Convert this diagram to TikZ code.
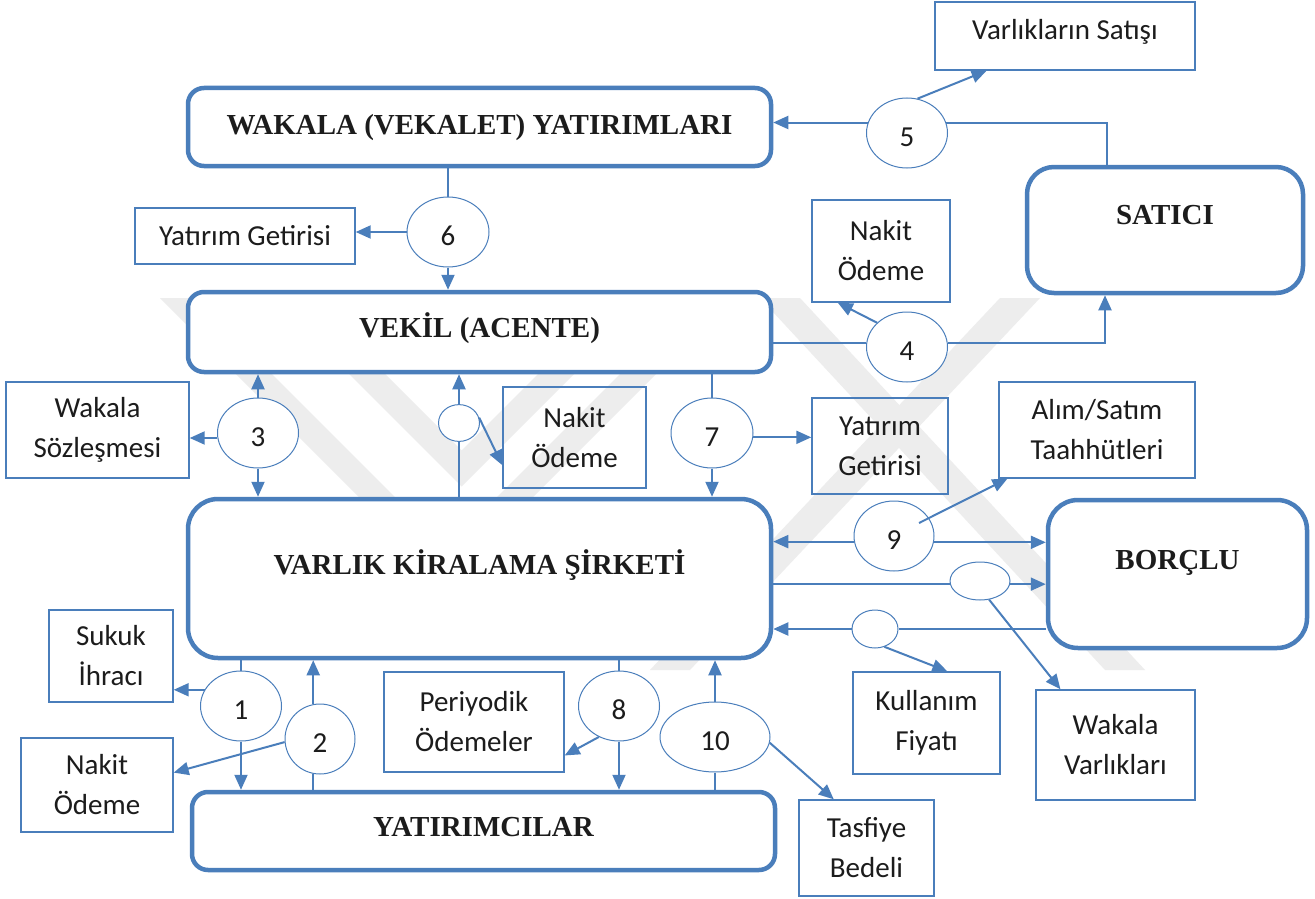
\documentclass[tikz,border=0pt]{standalone}
\usepackage{fontspec}
\setmainfont{Liberation Serif}
\newfontfamily\labfont{Carlito}
\usetikzlibrary{shapes.geometric,arrows.meta,calc}
\definecolor{bl}{RGB}{74,126,187}
\definecolor{wm}{RGB}{237,237,237}
\definecolor{tx}{RGB}{28,28,28}
\begin{document}
\begin{tikzpicture}[x=1pt,y=-1pt,
  big/.style={draw=bl, line width=4.5pt, fill=white, rounded corners=#1, inner sep=0pt,
    text=tx, font=\fontsize{29}{34}\selectfont\bfseries, text height=20pt},
  thin/.style={draw=bl, line width=1.4pt, inner sep=0pt, align=center, text=tx,
    font=\labfont\fontsize{29}{40}\selectfont},
  ell/.style={ellipse, draw=bl, line width=1pt, fill=white, inner sep=0pt, text=tx,
    font=\labfont\fontsize{29}{34}\selectfont, text height=26pt, text depth=0pt},
  ln/.style={draw=bl, line width=2pt},
  arr/.style={draw=bl, line width=2pt, -{Triangle[length=15pt,width=13pt]}}]
\fill[white] (0,0) rectangle (1315,899);
\useasboundingbox (0,0) rectangle (1315,899);
% watermark
\begin{scope}
\clip (0,297) rectangle (1315,670);
\fill[wm] (160,298) -- (196,298) -- (446,548) -- (696,298) -- (732,298) -- (446,584) -- cycle;
\fill[wm] (273,298) -- (309,298) -- (461.5,450.5) -- (614,298) -- (650,298) -- (461.5,486.5) -- cycle;
\fill[wm] (760,298) -- (800,298) -- (1145,670) -- (1105,670) -- cycle;
\fill[wm] (1000,298) -- (1040,298) -- (690,670) -- (650,670) -- cycle;
\end{scope}
% main boxes
\node[big=16pt, minimum width=583pt, minimum height=78pt, text depth=4.8pt] (wak) at (479.5,127) {WAKALA (VEKALET) YATIRIMLARI};
\node[big=16pt, minimum width=583pt, minimum height=80pt, text depth=8.8pt] (vek) at (479.5,332) {VEKİL (ACENTE)};
\node[big=30pt, minimum width=583pt, minimum height=159pt, text depth=27.8pt] (var) at (479.5,578.5) {VARLIK KİRALAMA ŞİRKETİ};
\node[big=16pt, minimum width=583pt, minimum height=78pt, text depth=8.8pt] (yat) at (483.5,831) {YATIRIMCILAR};
\node[big=27pt, minimum width=276pt, minimum height=126pt, text depth=30.8pt] (sat) at (1165,230) {SATICI};
\node[big=30pt, minimum width=259pt, minimum height=148pt, text depth=28.8pt] (bor) at (1177.5,574) {BORÇLU};
% label boxes
\node[thin, minimum width=260pt, minimum height=68pt, text height=20pt, text depth=13pt] (vs) at (1065,36) {Varlıkların Satışı};
\node[thin, minimum width=220pt, minimum height=56pt] (yg1) at (245,236) {Yatırım Getirisi};
\node[thin, minimum width=138pt, minimum height=102pt] (no1) at (881,251) {Nakit\\Ödeme};
\node[thin, minimum width=183pt, minimum height=96pt] (ws) at (97.5,430) {Wakala\\Sözleşmesi};
\node[thin, minimum width=143pt, minimum height=101pt] (no2) at (574.5,437.5) {Nakit\\Ödeme};
\node[thin, minimum width=136pt, minimum height=96pt] (yg2) at (880,446) {Yatırım\\Getirisi};
\node[thin, minimum width=196pt, minimum height=96pt] (as) at (1097,430) {Alım/Satım\\Taahhütleri};
\node[thin, minimum width=124pt, minimum height=92pt] (si) at (111,656) {Sukuk\\İhracı};
\node[thin, minimum width=152pt, minimum height=94pt] (no3) at (97,785) {Nakit\\Ödeme};
\node[thin, minimum width=180pt, minimum height=100pt] (po) at (474,722) {Periyodik\\Ödemeler};
\node[thin, minimum width=147pt, minimum height=102pt] (kf) at (926.5,723) {Kullanım\\Fiyatı};
\node[thin, minimum width=159pt, minimum height=110pt] (wv) at (1115.5,745) {Wakala\\Varlıkları};
\node[thin, minimum width=135pt, minimum height=96pt] (tb) at (866.5,848) {Tasfiye\\Bedeli};
% ellipses
\node[ell, minimum width=81pt, minimum height=70pt] (c5) at (907,133) {5};
\node[ell, minimum width=82pt, minimum height=70pt] (c6) at (448,232) {6};
\node[ell, minimum width=81pt, minimum height=70pt] (c4) at (907,347) {4};
\node[ell, minimum width=81pt, minimum height=70pt] (c3) at (258,433) {3};
\node[ell, minimum width=41pt, minimum height=30pt] (e1) at (459,423) {};
\node[ell, minimum width=82pt, minimum height=70pt] (c7) at (712,433) {7};
\node[ell, minimum width=80pt, minimum height=70pt] (c9) at (894,536) {9};
\node[ell, minimum width=60pt, minimum height=38pt] (e2) at (980,581) {};
\node[ell, minimum width=46pt, minimum height=38pt] (e3) at (875,629) {};
\node[ell, minimum width=81pt, minimum height=70pt] (c1) at (241,706) {1};
\node[ell, minimum width=70pt, minimum height=70pt] (c2) at (320,739) {2};
\node[ell, minimum width=81pt, minimum height=70pt] (c8) at (619,706) {8};
\node[ell, minimum width=110pt, minimum height=70pt] (c10) at (715,737) {10};
% connectors: 6
\draw[ln] (c6.north |- wak.south) -- (c6.north);
\draw[arr] (c6.south) -- (c6.south |- vek.north);
\draw[arr] (c6.west) -- (c6.west -| yg1.east);
% 5
\draw[ln] ([xshift=-58pt]sat.north) |- (c5.14.5);
\draw[arr] (c5.165.5) -- (c5.165.5 -| wak.east);
\draw[arr] (c5.73) -- ($(vs.south west)!0.2!(vs.south east)$);
% 4
\draw[ln] (c4.174.3 -| vek.east) -- (c4.174.3);
\draw[arr] (c4.5.7) -| ([xshift=-60pt]sat.south);
\draw[arr] (c4.141) -- ($(no1.south west)!0.19!(no1.south east)$);
% 7
\draw[ln] (c7.north |- vek.south) -- (c7.north);
\draw[arr] (c7.south) -- (c7.south |- var.north);
\draw[arr] (c7.354.3) -- (c7.354.3 -| yg2.west);
% 3
\draw[arr] (c3.north) -- (c3.north |- vek.south);
\draw[arr] (c3.south) -- (c3.south |- var.north);
\draw[arr] (c3.187) -- (c3.187 -| ws.east);
% small ellipse (payment to agent)
\draw[ln] (e1.south |- var.north) -- (e1.south);
\draw[arr] (e1.north) -- (e1.north |- vek.south);
\draw[arr] (e1.15) -- ($(no2.north west)!0.77!(no2.south west)$);
% 1
\draw[ln] (c1.north |- var.south) -- (c1.north);
\draw[arr] (c1.south) -- (c1.south |- yat.north);
\draw[arr] (c1.156) -- (c1.156 -| si.east);
% 2
\draw[ln] (c2.258.5 |- yat.north) -- (c2.258.5);
\draw[arr] (c2.101.5) -- (c2.101.5 |- var.south);
\draw[arr] (c2.185) -- ($(no3.north east)!0.37!(no3.south east)$);
% 8
\draw[ln] (c8.north |- var.south) -- (c8.north);
\draw[arr] (c8.south) -- (c8.south |- yat.north);
\draw[arr] (c8.237) -- ($(po.north east)!0.83!(po.south east)$);
% 10
\draw[ln] (c10.south |- yat.north) -- (c10.south);
\draw[arr] (c10.north) -- (c10.north |- var.south);
\draw[arr] (c10.354) -- ($(tb.north west)!0.26!(tb.north east)$);
% 9
\draw[arr] (c9.188.7) -- (c9.188.7 -| var.east);
\draw[arr] (c9.351.3) -- (c9.351.3 -| bor.west);
\draw[arr] ([xshift=25pt,yshift=13pt]c9.center) -- ($(as.south west)!0.046!(as.south east)$);
% wakala assets ellipse
\draw[ln] (e2.185.8 -| var.east) -- (e2.185.8);
\draw[arr] (e2.354.2) -- (e2.354.2 -| bor.west);
\draw[arr] (e2.296.4) -- ($(wv.north west)!0.157!(wv.north east)$);
% usage price ellipse
\draw[ln] (e3.east -| bor.west) -- (e3.east);
\draw[arr] (e3.west) -- (e3.west -| var.east);
\draw[arr] (e3.298.5) -- ($(kf.north west)!0.64!(kf.north east)$);
\end{tikzpicture}
\end{document}
